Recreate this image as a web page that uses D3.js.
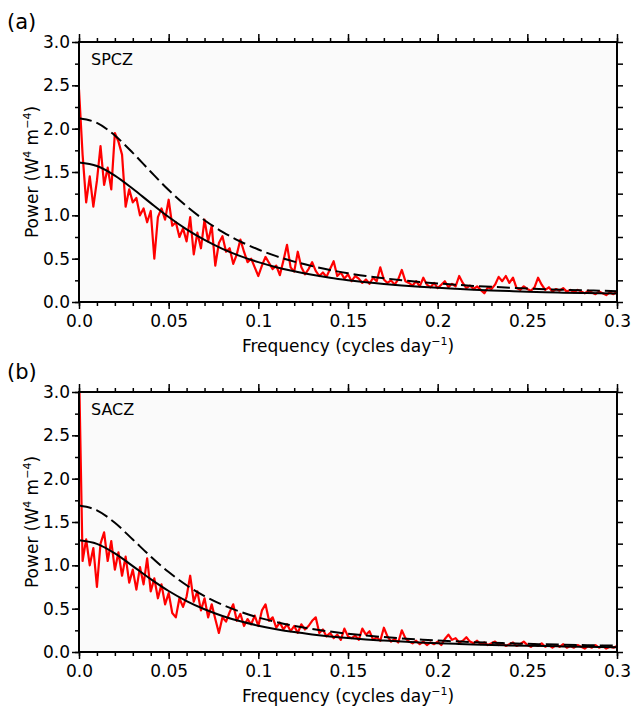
<!DOCTYPE html>
<html>
<head>
<meta charset="utf-8">
<script src="https://cdn.jsdelivr.net/npm/d3@7"></script>
<style>
  body { margin: 0; background: #fff; }
  text { font-family: "DejaVu Sans", sans-serif; fill: #000; }
</style>
</head>
<body>
<div id="chart"></div>
<script>
// frequency grids (cycles/day)
const freq = d3.range(0, 0.3001, 0.002)
const curveFreq = d3.range(0, 0.3001, 0.01)

const xTicks = [0, 0.05, 0.1, 0.15, 0.2, 0.25, 0.3]
const xTickLabels = ["0.0", "0.05", "0.1", "0.15", "0.2", "0.25", "0.3"]
const yTicks = [0, 0.5, 1, 1.5, 2, 2.5, 3]
const yTickLabels = ["0.0", "0.5", "1.0", "1.5", "2.0", "2.5", "3.0"]

// (a) SPCZ power spectrum
const spczPower = [
  2.45, 1.70, 1.15, 1.45, 1.10, 1.40, 1.80, 1.35, 1.55, 1.30,
  1.95, 1.85, 1.70, 1.10, 1.30, 1.15, 1.20, 1.00, 1.08, 0.92,
  1.05, 0.50, 0.98, 1.08, 0.95, 1.18, 0.88, 0.92, 0.75, 0.85,
  0.70, 0.98, 0.55, 0.80, 0.62, 0.95, 0.70, 0.88, 0.42, 0.68,
  0.76, 0.58, 0.62, 0.44, 0.55, 0.72, 0.58, 0.46, 0.50, 0.40,
  0.30, 0.42, 0.52, 0.45, 0.38, 0.42, 0.31, 0.48, 0.66, 0.40,
  0.35, 0.58, 0.40, 0.32, 0.38, 0.46, 0.36, 0.30, 0.34, 0.29,
  0.38, 0.47, 0.30, 0.34, 0.27, 0.32, 0.24, 0.30, 0.27, 0.22,
  0.26, 0.21, 0.28, 0.24, 0.40, 0.26, 0.22, 0.25, 0.20, 0.26,
  0.37, 0.24, 0.22, 0.19, 0.24, 0.18, 0.28, 0.20, 0.17, 0.22,
  0.16, 0.20, 0.24, 0.17, 0.21, 0.18, 0.30, 0.22, 0.16, 0.19,
  0.15, 0.18, 0.14, 0.10, 0.17, 0.15, 0.20, 0.29, 0.24, 0.30,
  0.22, 0.28, 0.16, 0.14, 0.18, 0.15, 0.13, 0.17, 0.28, 0.20,
  0.14, 0.17, 0.12, 0.15, 0.13, 0.16, 0.12, 0.14, 0.11, 0.14,
  0.12, 0.10, 0.13, 0.11, 0.09, 0.12, 0.10, 0.08, 0.11, 0.09,
  0.12
]
const spczRedNoise = [
  1.61, 1.569, 1.459, 1.307, 1.141, 0.981, 0.839, 0.717, 0.614, 0.530,
  0.460, 0.402, 0.354, 0.314, 0.280, 0.252, 0.228, 0.208, 0.191, 0.176,
  0.163, 0.152, 0.142, 0.133, 0.126, 0.119, 0.113, 0.108, 0.104, 0.100,
  0.097
]
const spczSignif = [
  2.12, 2.066, 1.921, 1.721, 1.503, 1.292, 1.105, 0.944, 0.809, 0.698,
  0.606, 0.529, 0.466, 0.414, 0.369, 0.332, 0.300, 0.274, 0.251, 0.231,
  0.214, 0.199, 0.186, 0.175, 0.165, 0.156, 0.148, 0.141, 0.135, 0.130,
  0.125
]

// (b) SACZ power spectrum
const saczPower = [
  3.30, 1.05, 1.30, 1.00, 1.20, 0.75, 1.25, 1.38, 1.05, 1.28,
  0.95, 1.15, 0.88, 1.10, 0.80, 0.95, 0.72, 0.98, 0.78, 1.08,
  0.70, 0.85, 0.62, 0.78, 0.55, 0.68, 0.45, 0.40, 0.62, 0.52,
  0.64, 0.88, 0.58, 0.70, 0.48, 0.62, 0.40, 0.55, 0.38, 0.22,
  0.40, 0.35, 0.46, 0.55, 0.36, 0.44, 0.30, 0.38, 0.32, 0.42,
  0.30, 0.48, 0.55, 0.36, 0.40, 0.28, 0.34, 0.26, 0.32, 0.24,
  0.30, 0.22, 0.32, 0.26, 0.30, 0.36, 0.40, 0.22, 0.26, 0.18,
  0.22, 0.16, 0.20, 0.14, 0.27, 0.18, 0.16, 0.19, 0.14, 0.27,
  0.20, 0.24, 0.14, 0.17, 0.13, 0.28, 0.18, 0.12, 0.15, 0.11,
  0.25, 0.16, 0.12, 0.10, 0.13, 0.09, 0.12, 0.08, 0.11, 0.09,
  0.12, 0.08, 0.15, 0.20, 0.14, 0.16, 0.11, 0.13, 0.17, 0.12,
  0.10, 0.13, 0.09, 0.11, 0.08, 0.10, 0.12, 0.08, 0.10, 0.07,
  0.09, 0.11, 0.07, 0.09, 0.12, 0.08, 0.06, 0.09, 0.07, 0.10,
  0.06, 0.08, 0.05, 0.08, 0.06, 0.09, 0.05, 0.07, 0.05, 0.08,
  0.06, 0.04, 0.07, 0.05, 0.08, 0.05, 0.07, 0.04, 0.06, 0.05,
  0.07
]
const saczRedNoise = [
  1.29, 1.248, 1.138, 0.991, 0.841, 0.704, 0.588, 0.493, 0.416, 0.354,
  0.304, 0.263, 0.230, 0.203, 0.180, 0.161, 0.145, 0.132, 0.120, 0.110,
  0.101, 0.094, 0.087, 0.081, 0.076, 0.072, 0.068, 0.064, 0.061, 0.058,
  0.056
]
const saczSignif = [
  1.69, 1.635, 1.491, 1.298, 1.102, 0.922, 0.770, 0.646, 0.545, 0.464,
  0.398, 0.345, 0.301, 0.266, 0.236, 0.211, 0.190, 0.172, 0.157, 0.144,
  0.132, 0.123, 0.114, 0.107, 0.100, 0.094, 0.089, 0.084, 0.080, 0.076,
  0.073
]

const panels = [
  { top: 42, tag: "(a)", name: "SPCZ", power: spczPower, red: spczRedNoise, sig: spczSignif },
  { top: 392, tag: "(b)", name: "SACZ", power: saczPower, red: saczRedNoise, sig: saczSignif }
]

const LEFT = 79, RIGHT = 617, PH = 260

const svg = d3.select("#chart").append("svg")
  .attr("width", 631)
  .attr("height", 708)

const x = d3.scaleLinear().domain([0, 0.3]).range([LEFT, RIGHT])

panels.forEach((p, i) => {
  const y = d3.scaleLinear().domain([0, 3]).range([p.top + PH, p.top])
  const g = svg.append("g")

  g.append("rect")
    .attr("x", LEFT).attr("y", p.top)
    .attr("width", RIGHT - LEFT).attr("height", PH)
    .attr("fill", "#fafafa")

  const clipId = "clip" + i
  g.append("clipPath").attr("id", clipId)
    .append("rect")
      .attr("x", LEFT).attr("y", p.top)
      .attr("width", RIGHT - LEFT).attr("height", PH)

  const plot = g.append("g").attr("clip-path", `url(#${clipId})`)

  // power spectrum
  plot.append("path")
    .datum(p.power)
    .attr("fill", "none")
    .attr("stroke", "#ff0000")
    .attr("stroke-width", 2.2)
    .attr("stroke-linejoin", "round")
    .attr("d", d3.line().x((d, j) => x(freq[j])).y(d => y(d)))

  const smooth = d3.line()
    .x((d, j) => x(curveFreq[j]))
    .y(d => y(d))
    .curve(d3.curveMonotoneX)

  plot.append("path")
    .datum(p.sig)
    .attr("fill", "none")
    .attr("stroke", "#000")
    .attr("stroke-width", 2)
    .attr("stroke-dasharray", "13,5")
    .attr("d", smooth)

  plot.append("path")
    .datum(p.red)
    .attr("fill", "none")
    .attr("stroke", "#000")
    .attr("stroke-width", 2)
    .attr("d", smooth)

  // minor ticks
  const xMinor = d3.range(0, 0.3001, 0.01)
  const yMinor = d3.range(0, 3.001, 0.25)
  const noLab = () => ""

  const axes = [
    [d3.axisBottom(x).tickValues(xMinor).tickSize(4).tickFormat(noLab), `translate(0,${p.top + PH})`],
    [d3.axisTop(x).tickValues(xMinor).tickSize(4).tickFormat(noLab), `translate(0,${p.top})`],
    [d3.axisTop(x).tickValues(xTicks).tickSize(8).tickFormat(noLab), `translate(0,${p.top})`],
    [d3.axisLeft(y).tickValues(yMinor).tickSize(4).tickFormat(noLab), `translate(${LEFT},0)`],
    [d3.axisRight(y).tickValues(yMinor).tickSize(6).tickFormat(noLab), `translate(${RIGHT},0)`],
    [d3.axisBottom(x).tickValues(xTicks).tickSize(7).tickPadding(6)
      .tickFormat((d, j) => xTickLabels[j]), `translate(0,${p.top + PH})`],
    [d3.axisLeft(y).tickValues(yTicks).tickSize(7).tickPadding(2)
      .tickFormat((d, j) => yTickLabels[j]), `translate(${LEFT},0)`]
  ]
  axes.forEach(([ax, tr]) => {
    const a = g.append("g").attr("transform", tr).call(ax.tickSizeOuter(0))
    a.select(".domain").remove()
    a.selectAll("line").attr("stroke", "#000").attr("stroke-width", 1.5)
    a.selectAll("text")
      .attr("font-family", "DejaVu Sans, sans-serif")
      .attr("font-size", 17)
      .attr("fill", "#000")
  })

  g.append("rect")
    .attr("x", LEFT).attr("y", p.top)
    .attr("width", RIGHT - LEFT).attr("height", PH)
    .attr("fill", "none")
    .attr("stroke", "#000")
    .attr("stroke-width", 2)

  // labels
  g.append("text")
    .attr("x", 7).attr("y", p.top - 13)
    .attr("font-size", 21)
    .text(p.tag)

  g.append("text")
    .attr("x", 91).attr("y", p.top + 23)
    .attr("font-size", 16)
    .text(p.name)

  const xl = g.append("text")
    .attr("x", 348).attr("y", p.top + PH + 50)
    .attr("text-anchor", "middle")
    .attr("font-size", 17)
  xl.append("tspan").text("Frequency (cycles day")
  xl.append("tspan").attr("dy", -7).attr("font-size", 11).text("\u22121")
  xl.append("tspan").attr("dy", 7).text(")")

  const yl = g.append("text")
    .attr("transform", `translate(38,${p.top + PH / 2}) rotate(-90)`)
    .attr("text-anchor", "middle")
    .attr("font-size", 17)
  yl.append("tspan").text("Power (W")
  yl.append("tspan").attr("dy", -7).attr("font-size", 11).text("4")
  yl.append("tspan").attr("dy", 7).text(" m")
  yl.append("tspan").attr("dy", -7).attr("font-size", 11).text("\u22124")
  yl.append("tspan").attr("dy", 7).text(")")
})
</script>
</body>
</html>
